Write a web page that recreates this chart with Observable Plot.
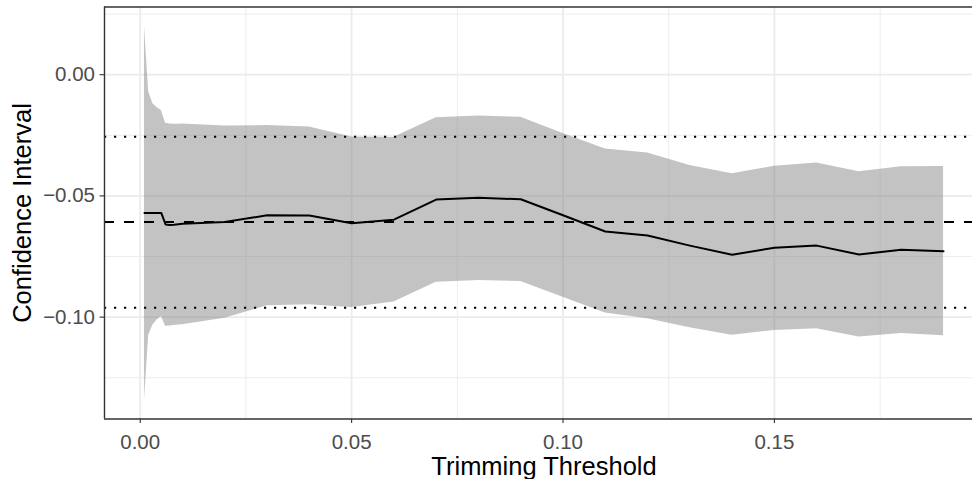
<!DOCTYPE html>
<html>
<head>
<meta charset="utf-8">
<script src="https://cdn.jsdelivr.net/npm/d3@7"></script>
<script src="https://cdn.jsdelivr.net/npm/@observablehq/plot@0.6"></script>
<style>
  html, body { margin: 0; padding: 0; background: #fff; }
  #chart { width: 972px; height: 479px; overflow: hidden; }
</style>
</head>
<body>
<div id="chart"></div>
<script>
// Trimming thresholds
const thresholds = [0.001, 0.002, 0.003, 0.004, 0.005, 0.006, 0.007, 0.008, 0.009,
  0.01, 0.02, 0.03, 0.04, 0.05, 0.06, 0.07, 0.08, 0.09, 0.10,
  0.11, 0.12, 0.13, 0.14, 0.15, 0.16, 0.17, 0.18, 0.19];
// Point estimate
const estimate = [-0.0571, -0.0571, -0.0571, -0.0571, -0.0571, -0.0618, -0.0620, -0.0619, -0.0617,
  -0.0615, -0.0608, -0.0580, -0.0581, -0.0613, -0.0598, -0.0515, -0.0508, -0.0514, -0.0580,
  -0.0647, -0.0663, -0.0705, -0.0743, -0.0714, -0.0705, -0.0742, -0.0722, -0.0728];
// Upper confidence bound
const upper = [0.0202, -0.0070, -0.0120, -0.0136, -0.0148, -0.0200, -0.0203, -0.0204, -0.0204,
  -0.0203, -0.0212, -0.0210, -0.0216, -0.0257, -0.0258, -0.0178, -0.0170, -0.0176, -0.0243,
  -0.0306, -0.0323, -0.0375, -0.0409, -0.0378, -0.0364, -0.0400, -0.0380, -0.0379];
// Lower confidence bound
const lower = [-0.1343, -0.1075, -0.1032, -0.1012, -0.0997, -0.1038, -0.1037, -0.1035, -0.1033,
  -0.1031, -0.1005, -0.0953, -0.0949, -0.0960, -0.0938, -0.0856, -0.0849, -0.0853, -0.0918,
  -0.0983, -0.1007, -0.1044, -0.1075, -0.1055, -0.1048, -0.1082, -0.1068, -0.1077];
// Reference lines
const centerLine = [-0.0608];
const boundLines = [-0.0256, -0.0961];
// Ticks
const xMajor = [0, 0.05, 0.10, 0.15];
const xMinor = [0.025, 0.075, 0.125, 0.175];
const yMajor = [0, -0.05, -0.10];
const yMinor = [0.025, -0.025, -0.075, -0.125];
const xTitle = "Trimming Threshold";
const yTitle = "Confidence Interval";

const data = thresholds.map((t, i) => ({t, est: estimate[i], lo: lower[i], hi: upper[i]}));

// ggplot-style 5% expansion
const xr = d3.extent(thresholds);
const xpad = (xr[1] - xr[0]) * 0.05;
const xDomain = [xr[0] - xpad, xr[1] + xpad];
const yr = [d3.min(lower), d3.max(upper)];
const ypad = (yr[1] - yr[0]) * 0.05;
const yDomain = [yr[0] - ypad, yr[1] + ypad];

const font = "'Liberation Sans', Arial, Helvetica, sans-serif";
const W = 972, H = 479;
const mL = 104, mT = 6.5, mB = 60.5;

const chart = Plot.plot({
  width: W,
  height: H,
  marginLeft: mL,
  marginRight: 0,
  marginTop: mT,
  marginBottom: mB,
  style: {fontFamily: font, background: "#fff", overflow: "hidden"},
  x: {domain: xDomain, range: [mL, 983]},
  y: {domain: yDomain},
  marks: [
    Plot.gridX(xMinor, {stroke: "#EBEBEB", strokeOpacity: 1, strokeWidth: 0.9}),
    Plot.gridY(yMinor, {stroke: "#EBEBEB", strokeOpacity: 1, strokeWidth: 0.9}),
    Plot.gridX(xMajor, {stroke: "#EBEBEB", strokeOpacity: 1, strokeWidth: 1.8}),
    Plot.gridY(yMajor, {stroke: "#EBEBEB", strokeOpacity: 1, strokeWidth: 1.8}),
    Plot.areaY(data, {x: "t", y1: "lo", y2: "hi", fill: "#808080", fillOpacity: 0.47}),
    Plot.ruleY(centerLine, {stroke: "black", strokeWidth: 2, strokeDasharray: "10,10"}),
    Plot.ruleY(boundLines, {stroke: "black", strokeWidth: 2, strokeDasharray: "2.2,7.8"}),
    Plot.lineY(data, {x: "t", y: "est", stroke: "black", strokeWidth: 2}),
    // panel border (right side lies beyond the visible area)
    Plot.ruleY([yDomain[0], yDomain[1]], {stroke: "#333333", strokeWidth: 1.4}),
    Plot.ruleX([xDomain[0]], {stroke: "#333333", strokeWidth: 1.4}),
    Plot.axisX(xMajor, {tickFormat: d3.format(".2f"), tickSize: 4.5, tickPadding: 10.5, fontSize: 20.5,
      fill: "#4D4D4D", stroke: "#333333", strokeWidth: 1.1, label: null}),
    Plot.axisY(yMajor, {tickFormat: d3.format(".2f"), tickSize: 4.5, tickPadding: 5, fontSize: 20.5,
      fill: "#4D4D4D", stroke: "#333333", strokeWidth: 1.1, label: null}),
    Plot.text([xTitle], {x: [(xDomain[0] + xDomain[1]) / 2], frameAnchor: "bottom", lineAnchor: "middle",
      dy: 48.3, fontSize: 25.5, fill: "black", textAnchor: "middle"}),
    Plot.text([yTitle], {frameAnchor: "left", lineAnchor: "middle", dx: -82, rotate: -90, fontSize: 25.5,
      fill: "black", textAnchor: "middle"})
  ]
});
document.getElementById("chart").appendChild(chart);
</script>
</body>
</html>
